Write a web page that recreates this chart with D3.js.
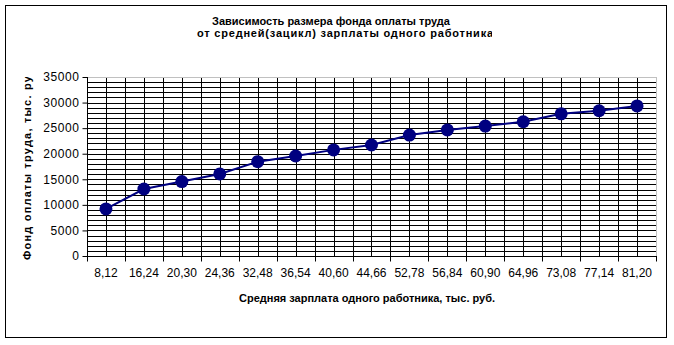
<!DOCTYPE html>
<meta charset="utf-8">
<title>Фонд оплаты труда</title>
<style>
  body { margin: 0; background: #fff; }
  text { font-family: "Liberation Sans", Arial, sans-serif; fill: #000; }
</style>
<body>
<script src="https://d3js.org/d3.v7.min.js"></script>

<script type="text/javascript">

// data
var categories = ["8,12", "16,24", "20,30", "24,36", "32,48", "36,54", "40,60", "44,66",
                  "52,78", "56,84", "60,90", "64,96", "73,08", "77,14", "81,20"];
var fund = [9200, 13100, 14550, 16050, 18450, 19550, 20750, 21700,
            23650, 24650, 25400, 26250, 27800, 28400, 29350];
var yTicks = [0, 5000, 10000, 15000, 20000, 25000, 30000, 35000];

var width = 674;
var height = 345;
var plotLeft = 87, plotRight = 656, plotTop = 77, plotBottom = 256;

var svg = d3.select("body")
      .append("svg")
      .attr("width", width)
      .attr("height", height)
      .style("display", "block");

// chart frame
svg.append("rect")
  .attr("x", 5.5).attr("y", 5.5)
  .attr("width", 661).attr("height", 332)
  .style("fill", "none").style("stroke", "#000").style("stroke-width", 1);

var x = d3.scaleBand().domain(categories).range([plotLeft, plotRight]);
var y = d3.scaleLinear().domain([0, 35000]).range([plotBottom, plotTop]);

// clip paths for the cut-off titles
var defs = svg.append("defs");
defs.append("clipPath").attr("id", "titleClip")
  .append("rect").attr("x", 0).attr("y", 0).attr("width", 492).attr("height", 60);
defs.append("clipPath").attr("id", "yTitleClip")
  .append("rect").attr("x", 0).attr("y", 77).attr("width", 60).attr("height", 250);

// horizontal grid every 1000
var hGrid = d3.range(1000, 35000, 1000);
svg.append("g").selectAll("line").data(hGrid).enter().append("line")
  .attr("x1", plotLeft).attr("x2", plotRight)
  .attr("y1", function(d) { return Math.round(y(d)) + 0.5; })
  .attr("y2", function(d) { return Math.round(y(d)) + 0.5; })
  .style("stroke", "#000").style("stroke-width", 1);

// vertical grid at category edges and centers
var vGrid = [];
categories.forEach(function(c, i) {
  if (i > 0) vGrid.push(x(c));
  vGrid.push(x(c) + x.bandwidth() / 2);
});
svg.append("g").selectAll("line").data(vGrid).enter().append("line")
  .attr("y1", plotTop).attr("y2", plotBottom)
  .attr("x1", function(d) { return Math.round(d) + 0.5; })
  .attr("x2", function(d) { return Math.round(d) + 0.5; })
  .style("stroke", "#000").style("stroke-width", 1);

// plot area border top / right (grey)
svg.append("line")
  .attr("x1", plotLeft).attr("x2", plotRight + 0.5)
  .attr("y1", plotTop + 0.5).attr("y2", plotTop + 0.5)
  .style("stroke", "#c0c0c0");
svg.append("line")
  .attr("x1", plotRight + 0.5).attr("x2", plotRight + 0.5)
  .attr("y1", plotTop).attr("y2", plotBottom)
  .style("stroke", "#c0c0c0");

// y axis
var yAxis = d3.axisLeft(y).tickValues(yTicks).tickSize(5).tickPadding(3)
  .tickFormat(function(d) { return d; });
var gy = svg.append("g")
  .attr("transform", "translate(" + (plotLeft + 0.5) + ",0)")
  .call(yAxis);
gy.select(".domain").attr("d", "M0," + plotTop + "V" + plotBottom);
gy.selectAll("line").style("stroke", "#000");
gy.selectAll("text")
  .style("font-size", "12px")
  .style("letter-spacing", "0.6px")
  .style("font-family", "'Liberation Sans', Arial, sans-serif");

// x axis: ticks at category boundaries, labels at centers
var bounds = categories.map(function(c) { return x(c); }).concat([plotRight]);
var gx = svg.append("g").attr("transform", "translate(0," + (plotBottom + 0.5) + ")");
gx.append("line")
  .attr("x1", plotLeft).attr("x2", plotRight + 1)
  .style("stroke", "#000");
gx.selectAll("line.tick").data(bounds).enter().append("line")
  .attr("class", "tick")
  .attr("x1", function(d) { return Math.round(d) + 0.5; })
  .attr("x2", function(d) { return Math.round(d) + 0.5; })
  .attr("y1", 0).attr("y2", 5)
  .style("stroke", "#000");
gx.selectAll("text").data(categories).enter().append("text")
  .attr("x", function(d) { return x(d) + x.bandwidth() / 2; })
  .attr("y", 20)
  .attr("text-anchor", "middle")
  .style("font-size", "12px")
  .text(function(d) { return d; });

// the series
var line = d3.line()
  .x(function(d, i) { return x(categories[i]) + x.bandwidth() / 2; })
  .y(function(d) { return y(d); });

svg.append("path")
  .datum(fund)
  .attr("d", line)
  .style("fill", "none")
  .style("stroke", "#000080")
  .style("stroke-width", 2);

svg.append("g").selectAll("circle").data(fund).enter().append("circle")
  .attr("cx", function(d, i) { return x(categories[i]) + x.bandwidth() / 2; })
  .attr("cy", function(d) { return y(d); })
  .attr("r", 6.5)
  .style("fill", "#000080");

// titles (second line is cut off on the right, like in the original)
var title = svg.append("g").attr("clip-path", "url(#titleClip)");
title.append("text")
  .attr("x", 331).attr("y", 25)
  .attr("text-anchor", "middle")
  .style("font-size", "11px").style("font-weight", "bold")
  .text("Зависимость размера фонда оплаты труда");
title.append("text")
  .attr("x", 197).attr("y", 37)
  .style("font-size", "11px").style("font-weight", "bold")
  .style("letter-spacing", "0.8px")
  .text("от средней(зацикл) зарплаты одного работника");

svg.append("g").attr("clip-path", "url(#yTitleClip)")
  .append("text")
  .attr("transform", "translate(31,260) rotate(-90)")
  .style("font-size", "11px").style("font-weight", "bold")
  .style("letter-spacing", "1.2px")
  .text("Фонд оплаты труда, тыс. руб.");

svg.append("text")
  .attr("x", 367).attr("y", 302)
  .attr("text-anchor", "middle")
  .style("font-size", "11px").style("font-weight", "bold")
  .text("Средняя зарплата одного работника, тыс. руб.");

</script>
</body>
